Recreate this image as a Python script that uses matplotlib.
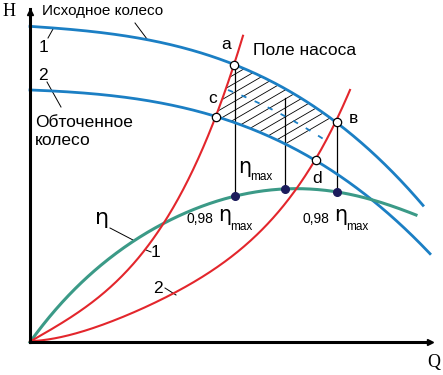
import numpy as np
import matplotlib
matplotlib.use('Agg')
from matplotlib import pyplot as plt
from matplotlib.patches import Polygon

# data (Q, H in picture units, origin at the axes corner)
q_wheel1 = [0, 70, 120, 150, 203, 260, 307, 330, 360, 393]
h_wheel1 = [315, 311, 302, 295, 276, 250, 220, 202, 172, 136]

q_wheel2 = [0, 70, 120, 150, 186, 240, 286, 300, 350, 400]
h_wheel2 = [252, 248, 241, 234, 225, 207, 182, 172, 134, 89]

q_sys1 = [0, 30, 70, 90, 110, 133, 147, 158, 186, 204, 213]
h_sys1 = [0, 19, 45, 64, 85, 119, 142, 162, 225, 277, 307]

q_sys2 = [0, 40, 90, 117, 147, 177, 208, 250, 268, 286, 307, 320]
h_sys2 = [0, 9, 24, 34, 49, 69, 92, 134, 155, 182, 220, 255]

q_eta = [0, 23, 47, 73, 90, 110, 133, 157, 183, 205, 255, 307, 343, 386]
h_eta = [0, 29, 55, 79, 92, 104, 119, 129, 140, 146, 153, 150, 142, 127]

q_etamax_line = [198, 247, 298]
h_etamax_line = [252, 230, 200]

# working points a, c, в, d and the efficiency points
pt_names = ['a', 'c', 'в', 'd']
pt_q = [204, 186, 307, 286]
pt_h = [277, 225, 220, 182]
eff_q = [205, 255, 307]
eff_h = [146, 153, 150]
eff_top = [277, 244, 220]

BLUE = '#1b7fc4'
RED = '#e3262c'
TEAL = '#3b9a87'
NAVY = '#1c1c5c'


def smooth(xs, ys, deg=4, n=300):
    # least squares curve through the read points
    c = np.polyfit(xs, ys, deg)
    q = np.linspace(xs[0], xs[-1], n)
    return q, np.polyval(c, q)


plt.rcParams['font.family'] = ['Liberation Sans', 'DejaVu Sans']
fig = plt.figure(figsize=(4.43, 3.75), dpi=100)
ax = fig.add_axes([0, 0, 1, 1])
ax.set_xlim(-30, 413)
ax.set_ylim(-33, 342)
ax.axis('off')

w1 = smooth(q_wheel1, h_wheel1, 3)
w2 = smooth(q_wheel2, h_wheel2, 3)
s1 = smooth(q_sys1, h_sys1, 4)
s2 = smooth(q_sys2, h_sys2, 4)
et = smooth(q_eta, h_eta, 5)

# pump field (hatched)
qa, qc, qb, qd = pt_q
m = (w1[0] >= qa) & (w1[0] <= qb)
top = np.column_stack([w1[0][m], w1[1][m]])
m = (s2[0] >= qd) & (s2[0] <= qb)
right = np.column_stack([s2[0][m], s2[1][m]])[::-1]
m = (w2[0] >= qc) & (w2[0] <= qd)
bottom = np.column_stack([w2[0][m], w2[1][m]])[::-1]
m = (s1[0] >= qc) & (s1[0] <= qa)
left = np.column_stack([s1[0][m], s1[1][m]])
field = Polygon(np.vstack([top, right, bottom, left]),
                closed=True, fc='none', ec='none')
ax.add_patch(field)
hq = np.array([150, 350])
for b in np.arange(50, 240, 9):
    ln, = ax.plot(hq, 0.58 * hq + b, color='black', lw=0.6, zorder=2)
    ln.set_clip_path(field)

ax.plot(w1[0], w1[1], color=BLUE, lw=2.0, zorder=3)
ax.plot(w2[0], w2[1], color=BLUE, lw=2.0, zorder=3)
ax.plot(et[0], et[1], color=TEAL, lw=2.2, zorder=3)
ax.plot(s1[0], s1[1], color=RED, lw=1.5, zorder=4)
ax.plot(s2[0], s2[1], color=RED, lw=1.5, zorder=4)
dl = smooth(q_etamax_line, h_etamax_line, 2)
ax.plot(dl[0], dl[1], color=BLUE, lw=1.3, dashes=(3, 5), zorder=3)

for q, h0, h1 in zip(eff_q, eff_h, eff_top):
    ax.plot([q, q], [h0, h1], color='black', lw=0.9, zorder=2)
ax.plot(eff_q, eff_h, 'o', color=NAVY, ms=5.5, zorder=6)
ax.plot(pt_q, pt_h, 'o', mfc='white', mec='black', mew=0.9, ms=6, zorder=6)

# axes with arrows
ax.plot([0, 0], [0, 333], color='black', lw=2.2, zorder=5)
ax.plot([0, 400], [0, 0], color='black', lw=2.2, zorder=5)
ax.plot([0], [330], marker='^', color='black', ms=5, zorder=5)
ax.plot([400], [0], marker='>', color='black', ms=5, zorder=5)
ax.text(-21, 330, 'H', family='Liberation Serif', fontsize=13, ha='center', va='center')
ax.text(404, -21, 'Q', family='Liberation Serif', fontsize=13, ha='center', va='center')

fs = 12.5
ax.text(12, 327, 'Исходное колесо', fontsize=11, va='baseline')
ax.plot([105, 117], [319, 303], color='black', lw=0.7)
ax.text(14, 290, '1', fontsize=fs, ha='center', va='baseline')
ax.plot([18, 23], [304, 313], color='black', lw=0.7)
ax.text(13, 262, '2', fontsize=fs, ha='center', va='baseline')
ax.plot([17, 31], [260, 235], color='black', lw=0.7)
ax.text(5, 215, 'Обточенное', fontsize=fs, va='baseline')
ax.text(5, 197, 'колесо', fontsize=fs, va='baseline')
ax.text(223, 287, 'Поле насоса', fontsize=fs, va='baseline')

lab_q = [196, 183, 319, 287]
lab_h = [293, 239, 219, 159]
for name, q, h in zip(pt_names, lab_q, lab_h):
    ax.text(q, h, name, fontsize=fs, ha='center' if name != 'в' else 'left', va='baseline')

ETA = ['DejaVu Sans']
ax.text(208, 169, 'η', family=ETA, fontsize=15, va='baseline')
ax.text(220, 162, 'max', fontsize=8.5, va='baseline')
for q0 in [157, 273]:
    ax.text(q0, 119, '0,98', fontsize=10, va='baseline')
    ax.text(q0 + 31, 121, 'η', family=ETA, fontsize=15, va='baseline')
    ax.text(q0 + 43, 112, 'max', fontsize=8.5, va='baseline')

ax.text(65, 118, 'η', family=ETA, fontsize=16, va='baseline')
ax.plot([80, 103], [114, 102], color='black', lw=0.7)
ax.text(126, 85, '1', fontsize=fs, ha='center', va='baseline')
ax.plot([116, 121], [92, 90], color='black', lw=0.7)
ax.text(128, 49, '2', fontsize=fs, ha='center', va='baseline')
ax.plot([135, 146], [54, 47], color='black', lw=0.7)

fig.savefig('out.png', dpi=100, facecolor='white')
